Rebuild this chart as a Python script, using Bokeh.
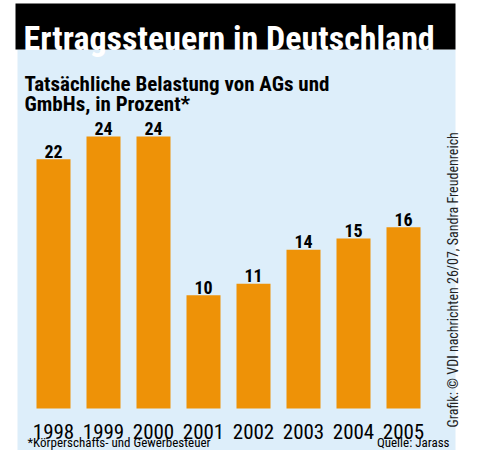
from bokeh.plotting import figure
from bokeh.models import Range1d, BoxAnnotation, Label, ColumnDataSource
from bokeh.core.properties import value
from bokeh.embed import file_html
from bokeh.resources import INLINE

# ---- data ----
years = ["1998", "1999", "2000", "2001", "2002", "2003", "2004", "2005"]
belastung = [22, 24, 24, 10, 11, 14, 15, 16]
value_labels = ["22", "24", "24", "10", "11", "14", "15", "16"]

title = "Ertragssteuern in Deutschland"
subtitle_1 = "Tatsächliche Belastung von AGs und"
subtitle_2 = "GmbHs, in Prozent*"
footnote = "*Körperschafts- und Gewerbesteuer"
source_txt = "Quelle: Jarass"
credit = "Grafik: © VDI nachrichten 26/07, Sandra Freudenreich"

# ---- styling ----
W, H = 484, 450
FONT = "Roboto Condensed"
ORANGE = "#EE9207"
PANEL = "#DDEEFA"

def sy(px_from_top):
    return H - px_from_top

src = ColumnDataSource(dict(
    x=list(range(len(years))),
    y=belastung,
    year=years,
    lab=value_labels,
    zero=[0] * len(years),
))

p = figure(width=W, height=H, output_backend="svg", toolbar_location=None,
           x_range=Range1d(-1.06, 8.62), y_range=Range1d(-3.706, 36.0),
           min_border=0, min_border_left=0, min_border_right=0,
           min_border_top=0, min_border_bottom=0)
p.axis.visible = False
p.grid.visible = False
p.outline_line_color = None
p.background_fill_color = "white"
p.border_fill_color = "white"

# background panels
p.add_layout(BoxAnnotation(left=17, right=455, bottom=sy(450), top=sy(49),
                           left_units="screen", right_units="screen",
                           top_units="screen", bottom_units="screen",
                           fill_color=PANEL, fill_alpha=1, line_color=None, level="underlay"))
p.add_layout(BoxAnnotation(left=15, right=455, bottom=sy(49), top=sy(3),
                           left_units="screen", right_units="screen",
                           top_units="screen", bottom_units="screen",
                           fill_color="black", fill_alpha=1, line_color=None, level="underlay"))

# bars
p.vbar(x="x", top="y", bottom=0, width=0.68, source=src,
       fill_color=ORANGE, line_color=None)

# value labels
p.text(x="x", y="y", text="lab", source=src, y_offset=-8,
       text_align="center", text_baseline="alphabetic",
       text_font=value(FONT), text_font_style="bold", text_font_size="18px",
       text_color="black")

# year labels
p.text(x="x", y="zero", text="year", source=src, y_offset=23,
       text_align="center", text_baseline="alphabetic",
       text_font=value(FONT), text_font_size="21px", text_color="black")

# titles
p.add_layout(Label(x=23, y=sy(37.5), x_units="screen", y_units="screen",
                   text=title, text_color="white", text_font=FONT,
                   text_font_style="bold", text_font_size="34px",
                   text_baseline="alphabetic"))
p.add_layout(Label(x=24, y=sy(83), x_units="screen", y_units="screen",
                   text=subtitle_1, text_color="black", text_font=FONT,
                   text_font_style="bold", text_font_size="21px",
                   text_baseline="alphabetic"))
p.add_layout(Label(x=24, y=sy(103), x_units="screen", y_units="screen",
                   text=subtitle_2, text_color="black", text_font=FONT,
                   text_font_style="bold", text_font_size="21px",
                   text_baseline="alphabetic"))

# footer
p.add_layout(Label(x=27, y=sy(442), x_units="screen", y_units="screen",
                   text=footnote, text_color="black", text_font=FONT,
                   text_font_size="13px", text_baseline="alphabetic"))
p.add_layout(Label(x=449, y=sy(442), x_units="screen", y_units="screen",
                   text=source_txt, text_color="black", text_font=FONT,
                   text_font_size="13px", text_baseline="alphabetic",
                   text_align="right"))

# vertical credit
p.add_layout(Label(x=452, y=sy(427), x_units="screen", y_units="screen",
                   text=credit, text_color="#222222", text_font=FONT,
                   text_font_size="14px", text_baseline="alphabetic",
                   angle=90, angle_units="deg"))

open("out.html", "w").write(file_html(p, INLINE))
